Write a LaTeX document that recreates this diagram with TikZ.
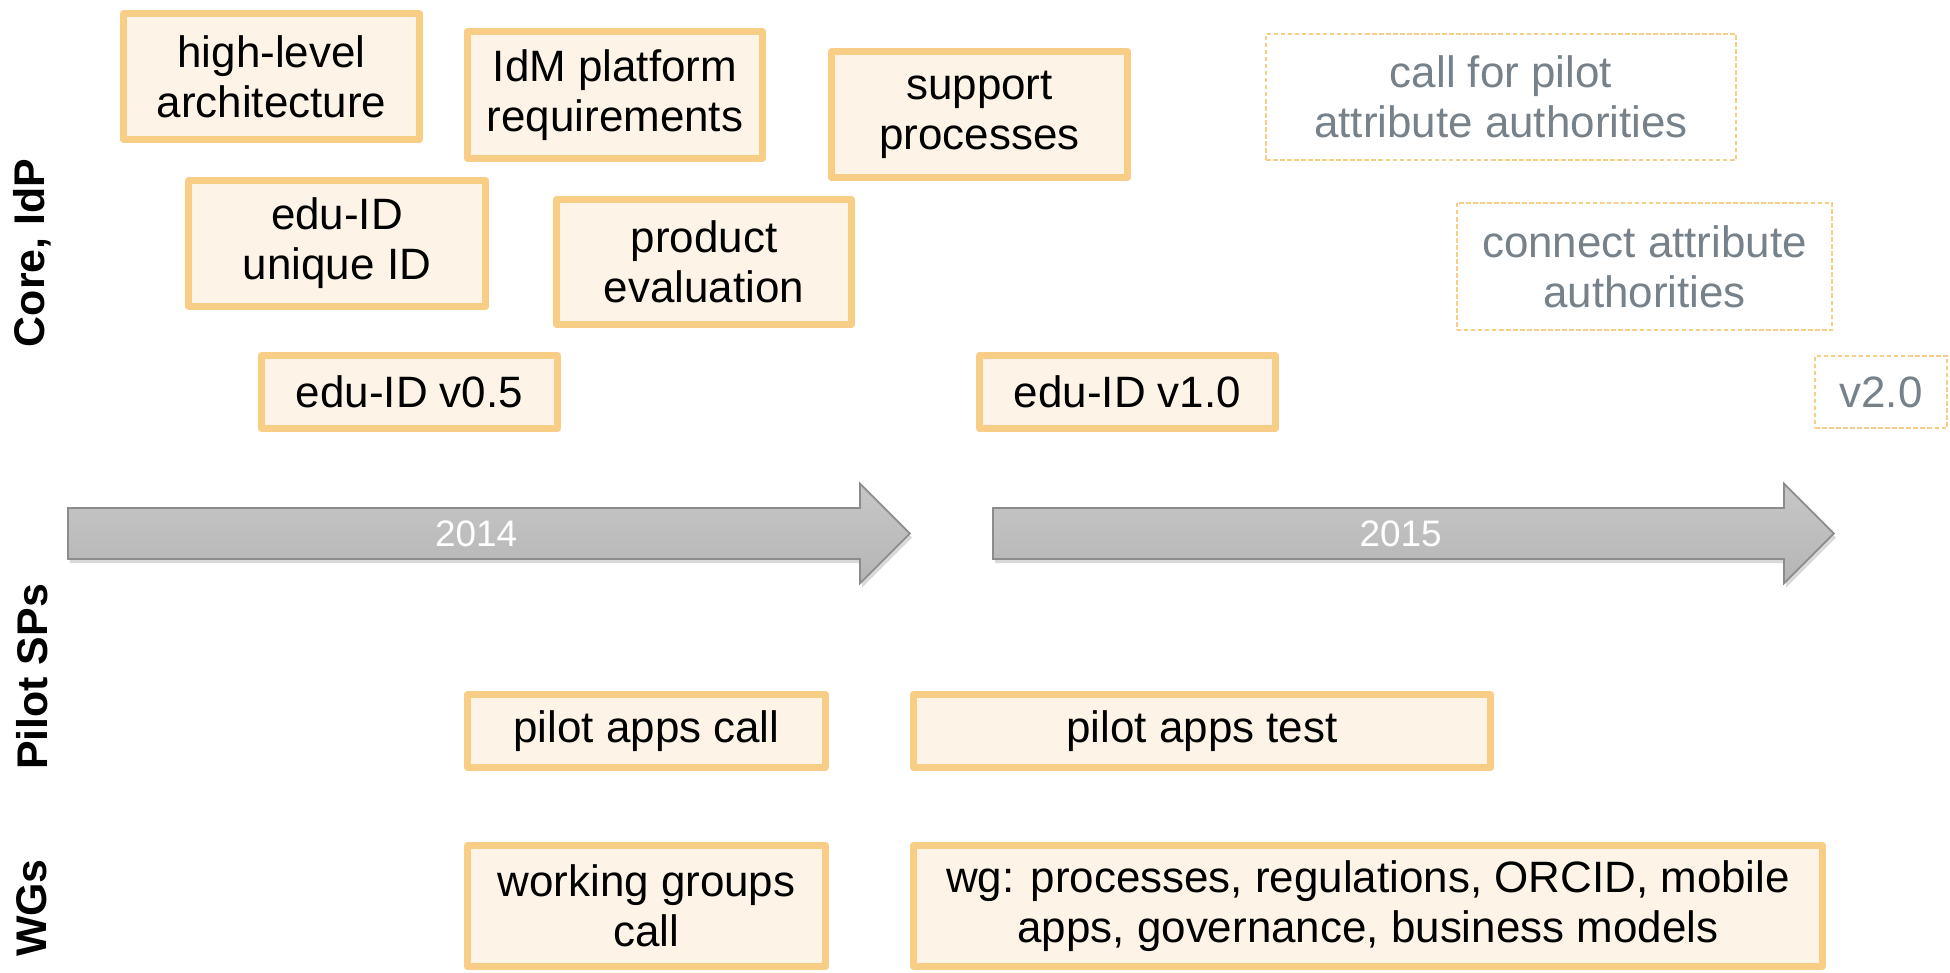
\documentclass[tikz,border=0pt]{standalone}
\usepackage{fontspec}
\setmainfont{Liberation Sans}
\usepackage{tikz}
\usetikzlibrary{shapes.arrows}
\usetikzlibrary{shadows}

\definecolor{boxline}{RGB}{248,206,135}
\definecolor{boxfill}{RGB}{253,243,231}
\definecolor{plantext}{RGB}{118,129,138}
\definecolor{yearline}{RGB}{140,140,140}

\tikzset{
  task/.style={draw=boxline, fill=boxfill, line width=2pt, line join=round, inner sep=0pt, align=center, font=\fontsize{12.5}{14.2}\selectfont},
  plan/.style={draw=boxline, line width=0.45pt, dash pattern=on 1.3pt off 0.7pt, inner sep=0pt, align=center, text=plantext, font=\fontsize{12.5}{14.2}\selectfont},
  lane/.style={rotate=90, inner sep=0pt, font=\fontsize{12.2}{14}\selectfont\bfseries},
  year/.style={single arrow, single arrow head extend=0.245cm, text height=0.27cm, text depth=0cm, inner xsep=0pt, inner ysep=0.11cm, anchor=tail, draw=yearline, line width=0.5pt, top color=black!22, bottom color=black!29, drop shadow={shadow xshift=0.6pt, shadow yshift=-1.2pt, opacity=0.3}, text=white, font=\fontsize{10.5}{12}\selectfont}
}

\begin{document}
\begin{tikzpicture}
			\useasboundingbox (0,0) rectangle (19.5,-9.73);
			% Lanes:
			\node[lane] (core) at (0.32,-2.53) {Core, IdP};
			\node[lane] (pilots) at (0.32,-6.77) {Pilot SPs};
			\node[lane] (wgs) at (0.32,-9.08) {WGs};
			% Time line:
			\node[year, minimum height=8.42cm] (y2014) at (0.67,-5.335) {2014};
			\node[year, minimum height=8.41cm] (y2015) at (9.92,-5.335) {2015};
			% Core, IdP:
			\node[task, minimum width=2.96cm, minimum height=1.26cm] (hla) at (2.715,-0.765) {high-level\\architecture};
			\node[task, minimum width=2.95cm, minimum height=1.27cm] (idm) at (6.15,-0.95) {IdM platform\\requirements};
			\node[task, minimum width=2.96cm, minimum height=1.26cm] (supp) at (9.795,-1.145) {support\\processes};
			\node[plan, minimum width=4.70cm, minimum height=1.265cm] (callaa) at (15.01,-0.97) {call for pilot\\attribute authorities};
			\node[task, minimum width=2.97cm, minimum height=1.26cm] (uid) at (3.37,-2.435) {edu-ID\\unique ID};
			\node[task, minimum width=2.95cm, minimum height=1.25cm] (prod) at (7.04,-2.62) {product\\evaluation};
			\node[plan, minimum width=3.755cm, minimum height=1.275cm] (connaa) at (16.445,-2.665) {connect attribute\\authorities};
			\node[task, minimum width=2.96cm, minimum height=0.73cm] (v05) at (4.095,-3.92) {edu-ID v0.5};
			\node[task, minimum width=2.96cm, minimum height=0.73cm] (v10) at (11.275,-3.92) {edu-ID v1.0};
			\node[plan, minimum width=1.32cm, minimum height=0.725cm] (v20) at (18.81,-3.92) {v2.0};
			% Pilot SPs:
			\node[task, minimum width=3.58cm, minimum height=0.73cm] (pcall) at (6.465,-7.31) {pilot apps call};
			\node[task, minimum width=5.77cm, minimum height=0.73cm] (ptest) at (12.02,-7.31) {pilot apps test};
			% WGs:
			\node[task, minimum width=3.58cm, minimum height=1.21cm] (wgcall) at (6.465,-9.06) {working groups\\call};
			\node[task, minimum width=9.09cm, minimum height=1.21cm] (wgtopics) at (13.68,-9.06) {wg: processes, regulations, ORCID, mobile\\apps, governance, business models};
		\end{tikzpicture}
\end{document}
